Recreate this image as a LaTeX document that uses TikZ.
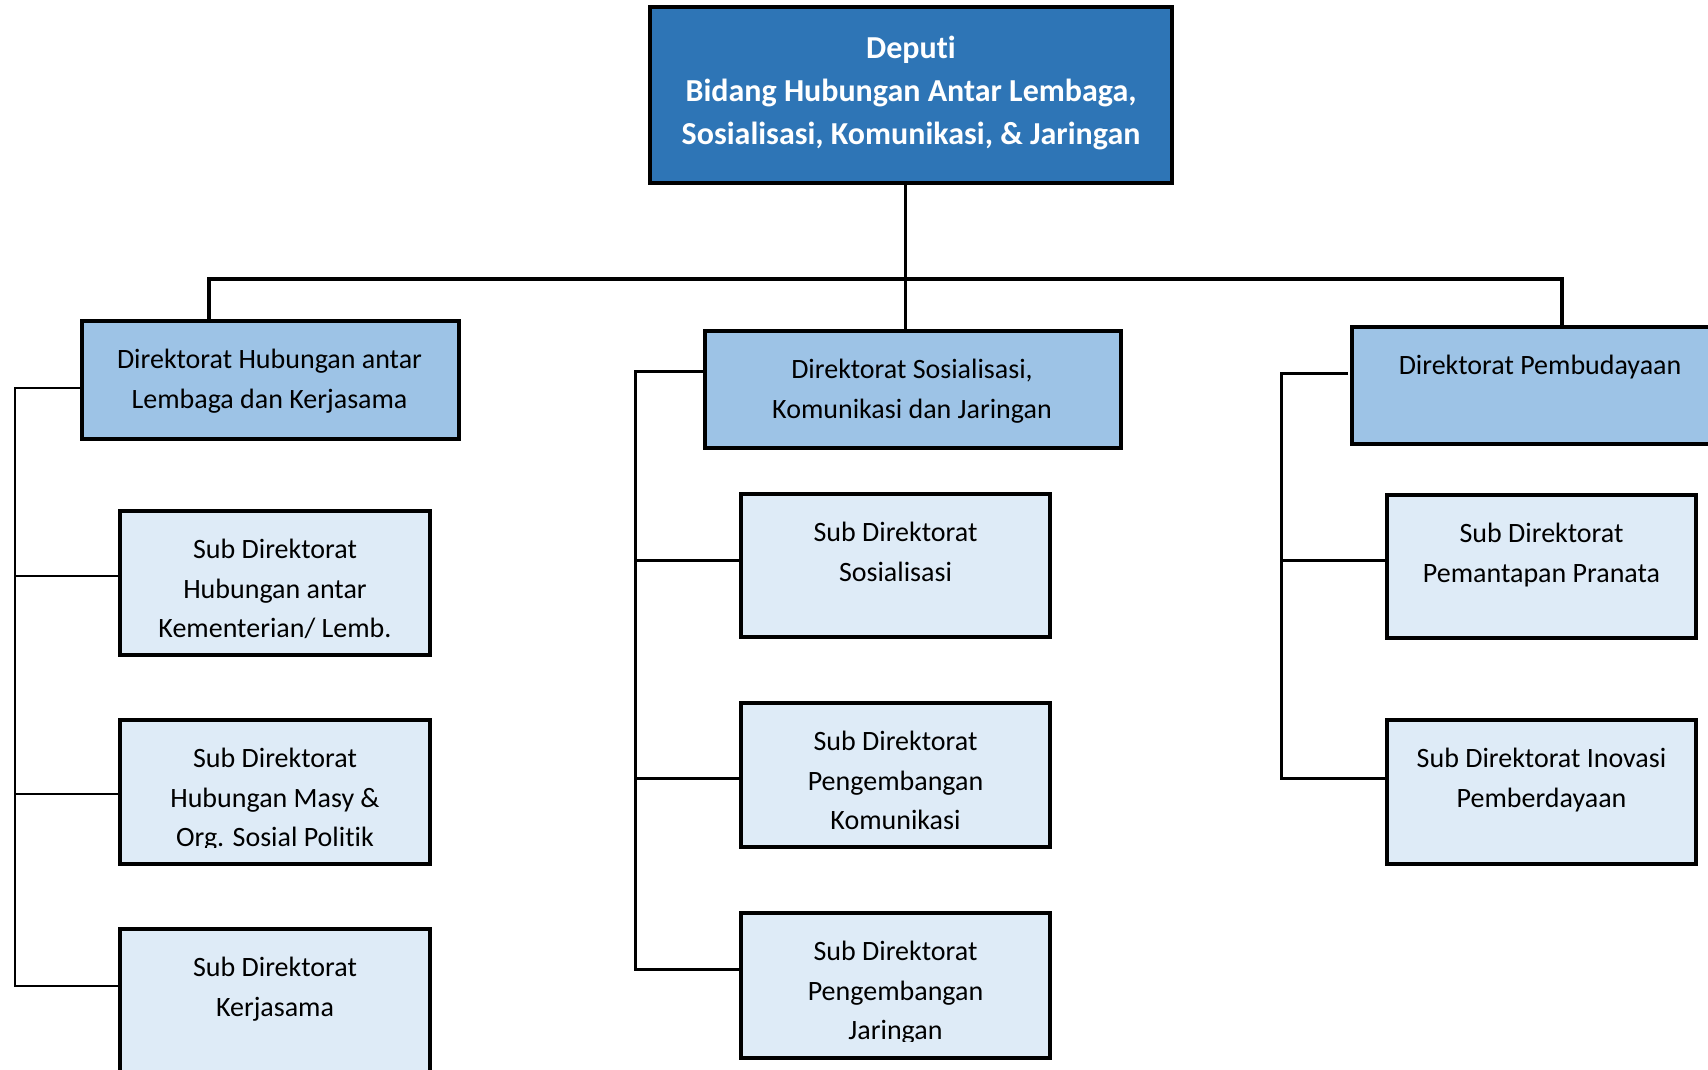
\documentclass[tikz,border=0pt]{standalone}
\usepackage{fontspec}
\setmainfont{Carlito}[Ligatures={NoCommon}]
\usetikzlibrary{calc}
\definecolor{topblue}{RGB}{46,117,182}
\definecolor{dirblue}{RGB}{157,195,230}
\definecolor{subblue}{RGB}{222,235,247}
\begin{document}
\begin{tikzpicture}[x=1pt,y=-1pt,
  box/.style={draw=black,line width=3.5pt,rectangle,inner sep=0pt,outer sep=0pt,anchor=north west},
  topbox/.style={box,fill=topblue},
  dirbox/.style={box,fill=dirblue},
  subbox/.style={box,fill=subblue},
  lbl/.style={align=center,anchor=north,inner sep=0pt,font=\fontsize{28}{39.5}\selectfont},
  toplbl/.style={align=center,anchor=north,inner sep=0pt,text=white,font=\bfseries\fontsize{32}{43}\selectfont},
  conn/.style={line width=3.5pt,line join=miter},
  spine/.style={line width=3pt,line join=miter},
  thinspine/.style={line width=2.5pt,line join=miter}]
\useasboundingbox (0,0) rectangle (1708,1069);
\clip (0,0) rectangle (1708,1069);
\fill[white] (0,0) rectangle (1708,1069);

% coordinates of connector bends
\coordinate (bL) at (209,279);
\coordinate (bM) at (905.5,279);
\coordinate (bR) at (1562,279);
\coordinate (lk0) at (15,388);
\coordinate (lk1) at (15,576);
\coordinate (lk2) at (15,794);
\coordinate (lk3) at (15,986);
\coordinate (mk0) at (635,371.5);
\coordinate (mk1) at (635,560);
\coordinate (mk2) at (635,778);
\coordinate (mk3) at (635,969);
\coordinate (rk0) at (1281,373);
\coordinate (rk1) at (1281,560);
\coordinate (rk2) at (1281,778);

% boxes
\node[topbox,minimum width=522pt,minimum height=176pt] (top) at (650,7) {};
\node[dirbox,minimum width=377pt,minimum height=118pt] (ldir) at (82,321) {};
\node[dirbox,minimum width=416pt,minimum height=117pt] (mdir) at (705,331) {};
\node[dirbox,minimum width=374pt,minimum height=117pt] (rdir) at (1352,327) {};
\node[subbox,minimum width=310pt,minimum height=144pt] (ls1) at (120,511) {};
\node[subbox,minimum width=310pt,minimum height=144pt] (ls2) at (120,720) {};
\node[subbox,minimum width=310pt,minimum height=144pt] (ls3) at (120,929) {};
\node[subbox,minimum width=309pt,minimum height=143pt] (ms1) at (741,494) {};
\node[subbox,minimum width=309pt,minimum height=144pt] (ms2) at (741,703) {};
\node[subbox,minimum width=309pt,minimum height=145pt] (ms3) at (741,913) {};
\node[subbox,minimum width=309pt,minimum height=143pt] (rs1) at (1387,495) {};
\node[subbox,minimum width=309pt,minimum height=144pt] (rs2) at (1387,720) {};

% labels
\node[toplbl] (ttop) at ($(top.north)+(0,29)$) {Deputi\\Bidang Hubungan Antar Lembaga,\\Sosialisasi, Komunikasi, \& Jaringan};
\node[lbl] (tldir) at ($(ldir.north)+(-1,28)$) {Direktorat Hubungan antar\\Lembaga dan Kerjasama};
\node[lbl] (tmdir) at ($(mdir.north)+(-1,28)$) {Direktorat Sosialisasi,\\Komunikasi dan Jaringan};
\node[lbl] (trdir) at (1540,355) {Direktorat Pembudayaan};
\node[lbl] (tls1) at ($(ls1.north)+(0,28)$) {Sub Direktorat\\Hubungan antar\\Kementerian/ Lemb.};
\begin{scope}
  \clip (120,720) rectangle (430,847);
  \node[lbl] (tls2) at ($(ls2.north)+(0,28)$) {Sub Direktorat\\Hubungan Masy \&\\Org. Sosial Politik};
\end{scope}
\node[lbl] (tls3) at ($(ls3.north)+(0,28)$) {Sub Direktorat\\Kerjasama};
\node[lbl] (tms1) at ($(ms1.north)+(0,28)$) {Sub Direktorat\\Sosialisasi};
\node[lbl] (tms2) at ($(ms2.north)+(0,28)$) {Sub Direktorat\\Pengembangan\\Komunikasi};
\begin{scope}
  \clip (741,913) rectangle (1050,1041);
  \node[lbl] (tms3) at ($(ms3.north)+(0,28)$) {Sub Direktorat\\Pengembangan\\Jaringan};
\end{scope}
\node[lbl] (trs1) at ($(rs1.north)+(0,28)$) {Sub Direktorat\\Pemantapan Pranata};
\node[lbl] (trs2) at ($(rs2.north)+(0,28)$) {Sub Direktorat Inovasi\\Pemberdayaan};

% connectors
\draw[conn] (bM |- top.south) -- (bM |- mdir.north);
\draw[conn] (bL |- ldir.north) -- (bL) -- (bR) -- (bR |- rdir.north);

\draw[thinspine] (ldir.west |- lk0) -- (lk0) -- (lk3) -- (ls3.west |- lk3);
\draw[thinspine] (lk1) -- (ls1.west |- lk1);
\draw[thinspine] (lk2) -- (ls2.west |- lk2);

\draw[spine] (mdir.west |- mk0) -- (mk0) -- (mk3) -- (ms3.west |- mk3);
\draw[spine] (mk1) -- (ms1.west |- mk1);
\draw[spine] (mk2) -- (ms2.west |- mk2);

\draw[spine] ([xshift=-4pt]rdir.west |- rk0) -- (rk0) -- (rk2) -- (rs2.west |- rk2);
\draw[spine] (rk1) -- (rs1.west |- rk1);
\end{tikzpicture}
\end{document}
